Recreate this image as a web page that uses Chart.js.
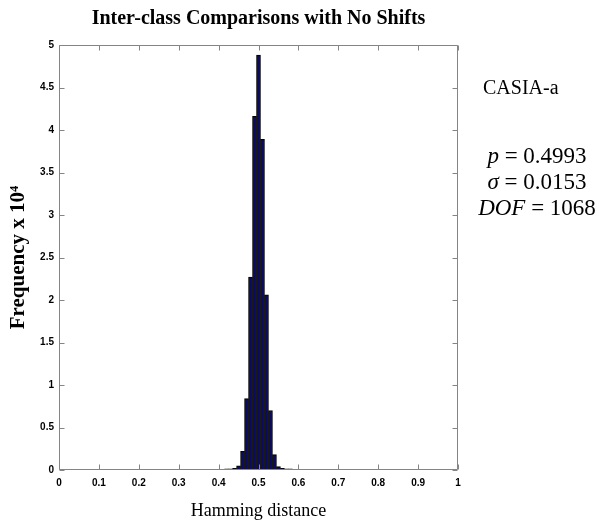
<!DOCTYPE html>
<html>
<head>
<meta charset="utf-8">
<script src="https://cdn.jsdelivr.net/npm/chart.js@4/dist/chart.umd.min.js"></script>
<style>
  body { margin: 0; background: #fff; }
  #wrap { width: 599px; height: 525px; }
</style>
</head>
<body>
<div id="wrap"><canvas id="hist" width="599" height="525"></canvas></div>
<script>
// histogram bins (centre of each 0.01 wide bin) and counts in units of 10^4
const hammingBins = [0.42, 0.43, 0.44, 0.45, 0.46, 0.47, 0.48, 0.49, 0.50, 0.51, 0.52, 0.53, 0.54, 0.55, 0.56, 0.57, 0.58];
const frequency = [0.015, 0.015, 0.02, 0.05, 0.22, 0.84, 2.27, 4.16, 4.88, 3.89, 2.06, 0.70, 0.18, 0.04, 0.02, 0.015, 0.015];

const xTickValues = [0, 0.1, 0.2, 0.3, 0.4, 0.5, 0.6, 0.7, 0.8, 0.9, 1];
const yTickValues = [0, 0.5, 1, 1.5, 2, 2.5, 3, 3.5, 4, 4.5, 5];

const datasetName = 'CASIA-a';
// each line: [text, italic]
const statLines = [
    [['p', true], [' = 0.4993', false]],
    [['σ', true], [' = 0.0153', false]],
    [['DOF', true], [' = 1068', false]]
];

const serif = "'Times New Roman', 'Liberation Serif', serif";
const tickFont = { family: "'Liberation Sans Narrow', 'Arial Narrow', Arial, sans-serif", size: 10, weight: 'bold' };

// MATLAB style box with ticks pointing inwards
const matlabBox = {
    id: 'matlabBox',
    afterDatasetsDraw(chart) {
        const { ctx, chartArea: a, scales } = chart;
        const L = Math.round(a.left) + 0.5, R = Math.round(a.right) - 0.5;
        const T = Math.round(a.top) + 0.5, B = Math.round(a.bottom) - 0.5;
        const len = 5;
        ctx.save();
        ctx.strokeStyle = '#858585';
        ctx.lineWidth = 1;
        ctx.beginPath();
        ctx.rect(L, T, R - L, B - T);
        xTickValues.forEach(v => {
            const px = Math.round(scales.x.getPixelForValue(v)) + 0.5;
            ctx.moveTo(px, B); ctx.lineTo(px, B - len);
            ctx.moveTo(px, T); ctx.lineTo(px, T + len);
        });
        yTickValues.forEach(v => {
            const py = Math.round(scales.y.getPixelForValue(v)) + 0.5;
            ctx.moveTo(L, py); ctx.lineTo(L + len, py);
            ctx.moveTo(R, py); ctx.lineTo(R - len, py);
        });
        ctx.stroke();
        ctx.restore();
    }
};

// dataset name and statistics to the right of the plot
const sideText = {
    id: 'sideText',
    afterDraw(chart) {
        const { ctx } = chart;
        const cx = 537;
        ctx.save();
        ctx.fillStyle = '#000';
        ctx.textBaseline = 'alphabetic';
        ctx.font = '20px ' + serif;
        ctx.textAlign = 'left';
        ctx.fillText(datasetName, 483, 94);

        const baselines = [163, 189, 215];
        statLines.forEach((parts, i) => {
            let total = 0;
            parts.forEach(([t, it]) => {
                ctx.font = (it ? 'italic ' : '') + '23px ' + serif;
                total += ctx.measureText(t).width;
            });
            let x = cx - total / 2;
            parts.forEach(([t, it]) => {
                ctx.font = (it ? 'italic ' : '') + '23px ' + serif;
                ctx.fillText(t, x, baselines[i]);
                x += ctx.measureText(t).width;
            });
        });
        ctx.restore();
    }
};

new Chart(document.getElementById('hist'), {
    type: 'bar',
    data: {
        datasets: [{
            label: 'Inter-class',
            data: hammingBins.map((b, i) => ({ x: b, y: frequency[i] })),
            backgroundColor: '#0a0a5e',
            borderColor: '#000000',
            borderWidth: 1,
            barPercentage: 1,
            categoryPercentage: 1
        }]
    },
    options: {
        responsive: false,
        animation: false,
        layout: { padding: { left: 0, right: 141, top: 0, bottom: 0 } },
        plugins: {
            legend: { display: false },
            tooltip: { enabled: false },
            title: {
                display: true,
                fullSize: false,
                text: 'Inter-class Comparisons with No Shifts',
                color: '#000',
                font: { family: serif, size: 20, weight: 'bold' },
                padding: { top: 7, bottom: 14 }
            }
        },
        scales: {
            x: {
                type: 'linear',
                min: 0,
                max: 1,
                offset: false,
                grid: { display: false, drawTicks: false, offset: false },
                border: { display: false },
                afterBuildTicks: s => { s.ticks = xTickValues.map(v => ({ value: v })); },
                afterFit: s => { s.height = 55; },
                ticks: {
                    color: '#000',
                    font: tickFont,
                    padding: 7,
                    maxRotation: 0,
                    callback: v => String(v)
                },
                title: {
                    display: true,
                    text: 'Hamming distance',
                    color: '#000',
                    font: { family: serif, size: 18 },
                    padding: { top: 0, bottom: 3 }
                }
            },
            y: {
                min: 0,
                max: 5,
                grid: { display: false, drawTicks: false },
                border: { display: false },
                afterBuildTicks: s => { s.ticks = yTickValues.map(v => ({ value: v })); },
                afterFit: s => { s.width = 59; },
                ticks: {
                    color: '#000',
                    font: tickFont,
                    padding: 5,
                    callback: v => String(v)
                },
                title: {
                    display: true,
                    text: 'Frequency x 10⁴',
                    color: '#000',
                    font: { family: serif, size: 21, weight: 'bold' },
                    padding: { top: 6, bottom: 0 }
                }
            }
        }
    },
    plugins: [matlabBox, sideText]
});
</script>
</body>
</html>
